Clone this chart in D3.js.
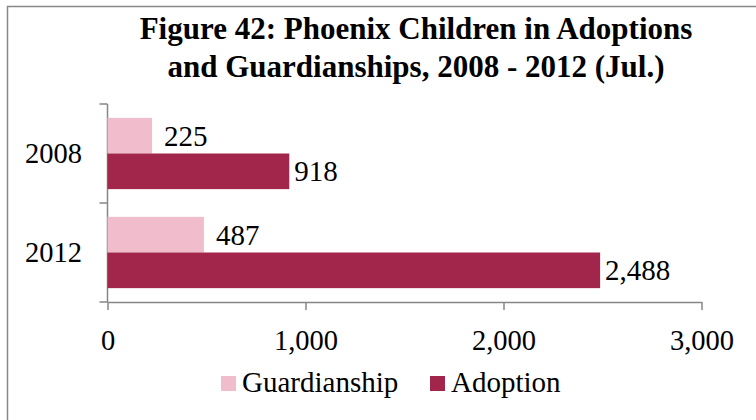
<!DOCTYPE html>
<html><head><meta charset="utf-8">
<script src="https://cdn.jsdelivr.net/npm/d3@7"></script>
<style>body{margin:0;background:#fff}svg{display:block}text{font-family:"Liberation Serif","Times New Roman",serif;fill:#000}</style>
</head><body>
<svg id="c" width="756" height="420"></svg>
<script>
const categories = ["2008", "2012"];
const seriesNames = ["Guardianship", "Adoption"];
const guardianship = [225, 487];
const adoption = [918, 2488];
const xTicks = [0, 1000, 2000, 3000];
const titleLines = ["Figure 42: Phoenix Children in Adoptions", "and Guardianships, 2008 - 2012 (Jul.)"];
const colors = ["#F1BCCB", "#A2264B"];

(function () {
const svg = d3.select("#c");
svg.append("rect").attr("x", 7.5).attr("y", 6.5).attr("width", 800).attr("height", 500)
  .attr("fill", "none").attr("stroke", "#888").attr("stroke-width", 1.5);

svg.selectAll("text.title").data(titleLines).enter().append("text")
  .attr("x", 416).attr("y", (d, i) => 39 + i * 38).attr("text-anchor", "middle")
  .attr("font-size", 31).attr("font-weight", "bold").text(d => d);

const pL = 107.5, pR = 701.5, pT = 104, pB = 302;
const x = d3.scaleLinear().domain([0, 3000]).range([pL, pR]);
const y = d3.scaleBand().domain(categories).range([pT, pB]).paddingInner(0.28).paddingOuter(0.14);
const sub = d3.scaleBand().domain(seriesNames).range([0, y.bandwidth()]);

const xAxis = d3.axisBottom(x).tickValues(xTicks).tickFormat(d3.format(",")).tickSize(8).tickSizeOuter(0);
const gx = svg.append("g").attr("transform", `translate(0,${pB})`).call(xAxis);
gx.select(".domain").attr("stroke", "#868686").attr("stroke-width", 1.5);
gx.selectAll(".tick line").attr("stroke", "#868686").attr("stroke-width", 1.5);
gx.selectAll(".tick text").attr("font-size", 28.5).attr("font-family", "Liberation Serif").attr("fill", "#000").attr("dy", "1.3em");

const yLineG = svg.append("g");
yLineG.append("line").attr("x1", pL).attr("x2", pL).attr("y1", pT).attr("y2", pB)
  .attr("stroke", "#868686").attr("stroke-width", 1.5);
const bounds = [pT, (y(categories[0]) + y.bandwidth() + y(categories[1])) / 2, pB];
yLineG.selectAll("line.t").data(bounds).enter().append("line")
  .attr("x1", pL - 8).attr("x2", pL).attr("y1", d => d).attr("y2", d => d)
  .attr("stroke", "#868686").attr("stroke-width", 1.5);
svg.selectAll("text.cat").data(categories).enter().append("text")
  .attr("x", 82).attr("y", d => y(d) + y.bandwidth() / 2 + 9).attr("text-anchor", "end")
  .attr("font-size", 28.5).text(d => d);

const rows = [];
categories.forEach((c, i) => {
  rows.push({cat: c, s: seriesNames[0], v: guardianship[i], k: 0});
  rows.push({cat: c, s: seriesNames[1], v: adoption[i], k: 1});
});
svg.selectAll("rect.bar").data(rows).enter().append("rect")
  .attr("x", x(0)).attr("y", d => y(d.cat) + sub(d.s))
  .attr("width", d => x(d.v) - x(0)).attr("height", sub.bandwidth())
  .attr("fill", d => colors[d.k]);
const fmt = d3.format(",");
svg.selectAll("text.lbl").data(rows).enter().append("text")
  .attr("x", d => x(d.v) + (d.k === 0 ? 12 : 5))
  .attr("y", d => y(d.cat) + sub(d.s) + sub.bandwidth() / 2 + 10)
  .attr("font-size", 29).text(d => fmt(d.v));

const lg = svg.append("g");
const legX = [221, 430];
seriesNames.forEach((n, i) => {
  lg.append("rect").attr("x", legX[i]).attr("y", 376).attr("width", 15).attr("height", 15).attr("fill", colors[i]);
  lg.append("text").attr("x", legX[i] + 21).attr("y", 392).attr("font-size", 29).text(n);
});
})();
</script>
</body></html>
